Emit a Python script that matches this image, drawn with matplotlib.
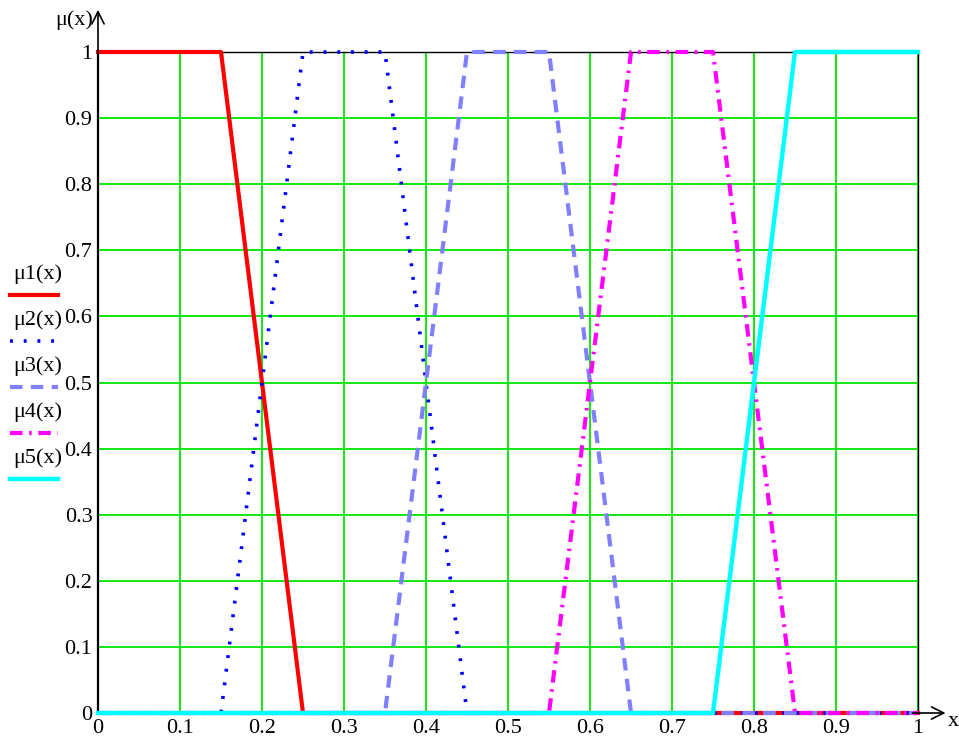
import matplotlib.pyplot as plt
from matplotlib.lines import Line2D

# trapezoid breakpoints (x) and membership values (y) for each term
x_mu1 = [0, 0.15, 0.25, 1]
y_mu1 = [1, 1, 0, 0]
x_mu2 = [0, 0.15, 0.25, 0.35, 0.45, 1]
y_mu2 = [0, 0, 1, 1, 0, 0]
x_mu3 = [0, 0.35, 0.45, 0.55, 0.65, 1]
y_mu3 = [0, 0, 1, 1, 0, 0]
x_mu4 = [0, 0.55, 0.65, 0.75, 0.85, 1]
y_mu4 = [0, 0, 1, 1, 0, 0]
x_mu5 = [0, 0.75, 0.85, 1]
y_mu5 = [0, 0, 1, 1]

labels = ["μ1(x)", "μ2(x)", "μ3(x)", "μ4(x)", "μ5(x)"]
ticks = [0, 0.1, 0.2, 0.3, 0.4, 0.5, 0.6, 0.7, 0.8, 0.9, 1]
tick_labels = ["0", "0.1", "0.2", "0.3", "0.4", "0.5", "0.6", "0.7", "0.8", "0.9", "1"]

plt.rcParams["font.family"] = ["Liberation Serif", "DejaVu Serif"]

W, H = 959, 744
fig = plt.figure(figsize=(W / 100, H / 100), dpi=100)
ax = fig.add_axes([98 / W, 31 / H, 820 / W, 661 / H])

styles = [
    dict(color="#ff0000", lw=3.0, linestyle="-"),
    dict(color="#0000ff", lw=2.6, linestyle=(0, (0.8, 3.0))),
    dict(color="#8080ff", lw=3.0, linestyle=(0, (3.0, 2.0))),
    dict(color="#ff00ff", lw=3.0, linestyle=(0, (3.0, 1.6, 0.6, 1.6))),
    dict(color="#00ffff", lw=3.2, linestyle="-"),
]
series = [(x_mu1, y_mu1), (x_mu2, y_mu2), (x_mu3, y_mu3), (x_mu4, y_mu4), (x_mu5, y_mu5)]

for (xs, ys), st in zip(series, styles):
    ax.plot(xs, ys, clip_on=False, zorder=3, **st)

ax.set_xlim(0, 1)
ax.set_ylim(0, 1)
ax.set_xticks(ticks)
ax.set_xticklabels(tick_labels)
ax.set_yticks(ticks)
ax.set_yticklabels(tick_labels)
ax.tick_params(length=0, labelsize=16, pad=4)
ax.grid(True, color="#00e600", lw=1.3)
for s in ax.spines.values():
    s.set_color("black")
    s.set_linewidth(1.0)
ax.spines["left"].set_linewidth(1.6)
ax.spines["bottom"].set_linewidth(1.6)

# axis arrows
ax.annotate("", xy=(0, 1.068), xytext=(0, 0.99), xycoords="axes fraction",
            arrowprops=dict(arrowstyle="->", color="black", lw=1.2, mutation_scale=22))
ax.annotate("", xy=(1.037, 0), xytext=(0.99, 0), xycoords="axes fraction",
            arrowprops=dict(arrowstyle="->", color="black", lw=1.2, mutation_scale=22))
fig.text(93 / W, 1 - 20 / H, "μ(x)", ha="right", va="center", fontsize=16)
fig.text(953 / W, 1 - 722 / H, "x", ha="center", va="center", fontsize=16)

# legend on the left, label above a line sample
for i, (lab, st) in enumerate(zip(labels, styles)):
    ty = 274 + 46 * i
    ly = 295 + 46 * i
    fig.text(13 / W, 1 - ty / H, lab, ha="left", va="center", fontsize=16)
    fig.add_artist(Line2D([10 / W, 58 / W], [1 - ly / H, 1 - ly / H],
                          transform=fig.transFigure, **st))

fig.savefig("out.png", dpi=100)
